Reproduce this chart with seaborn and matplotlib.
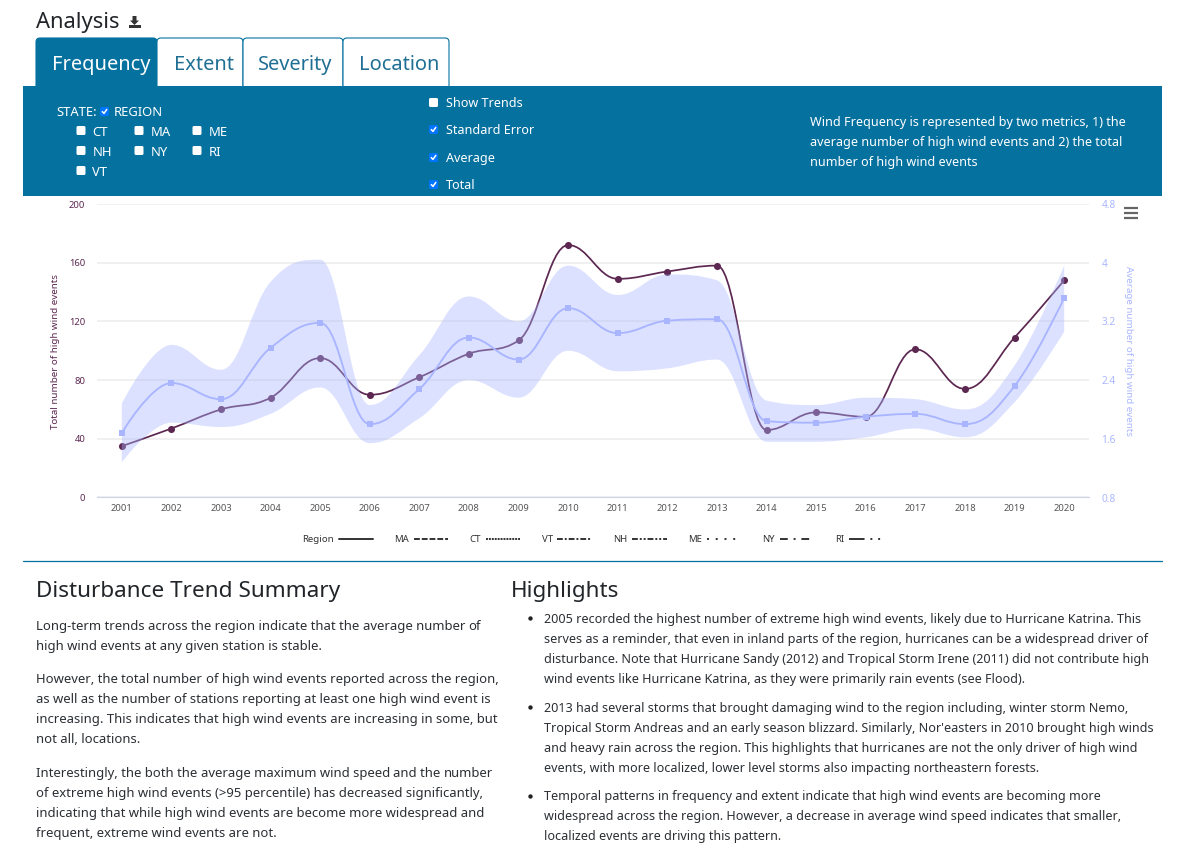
import matplotlib
matplotlib.use("Agg")
import matplotlib.pyplot as plt
import seaborn as sns
from matplotlib.path import Path
from matplotlib.patches import PathPatch, Rectangle, FancyBboxPatch, Polygon
from matplotlib.lines import Line2D

# ---------- data ----------
YEARS = list(range(2001, 2021))
TOTAL = [35, 47, 60, 68, 95, 70, 82, 98, 107, 172, 149, 154, 158, 46, 58, 55, 101, 74, 109, 148]
AVERAGE = [1.68, 2.36, 2.14, 2.84, 3.18, 1.80, 2.28, 2.98, 2.68, 3.38,
           3.04, 3.21, 3.23, 1.84, 1.82, 1.90, 1.94, 1.80, 2.32, 3.52]
SE_UPPER = [2.08, 2.88, 2.54, 3.74, 4.04, 2.06, 2.74, 3.54, 3.20, 3.96,
            3.56, 3.84, 3.76, 2.12, 2.06, 2.16, 2.14, 2.00, 2.60, 3.96]
SE_LOWER = [1.28, 1.82, 1.76, 1.94, 2.30, 1.54, 1.88, 2.40, 2.16, 2.80,
            2.52, 2.56, 2.68, 1.56, 1.56, 1.62, 1.74, 1.62, 2.10, 3.06]
LEFT_TICKS = [0, 40, 80, 120, 160, 200]
RIGHT_TICKS = [0.8, 1.6, 2.4, 3.2, 4, 4.8]
LEGEND_LABELS = ["Region", "MA", "CT", "VT", "NH", "ME", "NY", "RI"]
LEGEND_DASHES = [None, (3, 1), (1, .5), (3, 1, 1, 1), (3, 1, 1, 1, 1, 1), (1, 3.5), (4, 3, 1, 3), (8, 3, 1, 3, 1, 3)]
TABS = ["Frequency", "Extent", "Severity", "Location"]

SUMMARY = [
    (630, "Long-term trends across the region indicate that the **average number** of"),
    (650, "high wind events at any given station is stable."),
    (683, "However, the **total number** of high wind events reported across the region,"),
    (703, "as well as the number of stations reporting **at least one** high wind event is"),
    (723, "increasing. This indicates that high wind events are increasing in some, but"),
    (743, "not all, locations."),
    (777, "Interestingly, the both the **average maximum wind speed** and the **number**"),
    (797, "**of extreme high wind events** (>95 percentile) has decreased significantly,"),
    (817, "indicating that while high wind events are become more widespread and"),
    (837, "frequent, extreme wind events are not."),
]
HIGHLIGHTS = [
    (623, "2005 recorded the highest number of extreme high wind events, likely due to Hurricane Katrina. This"),
    (643, "serves as a reminder, that even in inland parts of the region, hurricanes can be a widespread driver of"),
    (663, "disturbance. Note that Hurricane Sandy (2012) and Tropical Storm Irene (2011) did not contribute high"),
    (683, "wind events like Hurricane Katrina, as they were primarily rain events (see Flood)."),
    (712, "2013 had several storms that brought damaging wind to the region including, winter storm Nemo,"),
    (732, "Tropical Storm Andreas and an early season blizzard. Similarly, Nor'easters in 2010 brought high winds"),
    (752, "and heavy rain across the region. This highlights that hurricanes are not the only driver of high wind"),
    (772, "events, with more localized, lower level storms also impacting northeastern forests."),
    (800, "Temporal patterns in frequency and extent indicate that high wind events are becoming more"),
    (820, "widespread across the region. However, a decrease in average wind speed indicates that smaller,"),
    (840, "localized events are driving this pattern."),
]
BULLET_ROWS = [618, 707, 796]
INFO = [(126, "Wind Frequency is represented by two metrics, 1) the"),
        (146, "average number of high wind events and 2) the total"),
        (166, "number of high wind events")]

# ---------- style ----------
W, H = 1178, 863
TEAL = "#05719f"
PURPLE = "#5c2751"
LAV = "#a9b6ff"
INK = "#212529"
sns.set_theme(style="white")
plt.rcParams["font.family"] = ["Noto Sans", "DejaVu Sans"]
px = lambda v: v * 0.72

fig = plt.figure(figsize=(W / 100, H / 100), dpi=100, facecolor="white")
ui = fig.add_axes([0, 0, 1, 1], zorder=0)
ui.set_xlim(0, W)
ui.set_ylim(H, 0)
ui.axis("off")
renderer = fig.canvas.get_renderer()


def label(x, y, s, size, color=INK, weight="normal", **kw):
    return ui.text(x, y, s, fontsize=px(size), color=color, fontweight=weight, va="baseline", ha="left", **kw)


def rich(x, y, s, size, color=INK):
    space = label(0, 0, "a a", size).get_window_extent(renderer).width - label(0, 0, "aa", size).get_window_extent(renderer).width
    ui.texts[-1].remove()
    ui.texts[-1].remove()
    for i, part in enumerate(s.split("**")):
        if not part.strip():
            continue
        if part[0] == " ":
            x += space
        t = label(x, y, part.strip(), size, color, "bold" if i % 2 else "normal")
        x += t.get_window_extent(renderer).width
        if part[-1] == " ":
            x += space


def checkbox(x, y, checked):
    ui.add_patch(FancyBboxPatch((x + 1, y + 1), 7, 7, boxstyle="round,pad=1,rounding_size=1.5",
                                fc="#0075ff" if checked else "white", ec="none"))
    if checked:
        ui.plot([x + 2.3, x + 4, x + 6.8], [y + 4.6, y + 6.4, y + 2.4], color="white", lw=1.1)


# ---------- page furniture ----------
label(36, 28, "Analysis", 22)
ui.add_patch(Polygon([(132.5, 16), (136.5, 16), (136.5, 20.5), (139, 20.5), (134.5, 25), (130, 20.5), (132.5, 20.5)], fc="#333", ec="none"))
ui.add_patch(Rectangle((129, 25), 11.5, 3, fc="#333", ec="none"))

tab_edges = [36, 157, 243, 343, 449]
tab_text_x = [52, 173.5, 258, 359]
for i, name in enumerate(TABS):
    x0, x1 = tab_edges[i], tab_edges[i + 1]
    ui.add_patch(FancyBboxPatch((x0 + 3, 41), x1 - x0 - 6, 60, boxstyle="round,pad=3,rounding_size=4",
                                fc=TEAL if i == 0 else "white", ec=TEAL, lw=0.8))
ui.add_patch(Rectangle((23, 86), 1139, 110, fc=TEAL, ec="none", zorder=3))
for i, name in enumerate(TABS):
    label(tab_text_x[i], 70, name, 20, "white" if i == 0 else "#1f6f94")

label(56, 116, "STATE:", 13, "white", zorder=4)
checkbox(100, 107, True)
ui.patches[-1].set_zorder(4); ui.lines[-1].set_zorder(5)
label(114, 116, "REGION", 13, "white", zorder=4)
STATE_GRID = [("CT", 76.5, 92.5, 126, 136), ("MA", 134.5, 151, 126, 136), ("ME", 192.5, 209, 126, 136),
              ("NH", 76.5, 92.5, 146, 156), ("NY", 134.5, 151, 146, 156), ("RI", 192.5, 209, 146, 156),
              ("VT", 76.5, 92.5, 166, 176)]
for s, bx, tx, by, ty in STATE_GRID:
    checkbox(bx, by, False)
    ui.patches[-1].set_zorder(4)
    label(tx, ty, s, 13, "white", zorder=4)
for s, by, ty, on in [("Show Trends", 98, 107, False), ("Standard Error", 125, 134, True),
                      ("Average", 153, 162, True), ("Total", 180, 189, True)]:
    checkbox(429, by, on)
    ui.patches[-1].set_zorder(4)
    if on:
        ui.lines[-1].set_zorder(5)
    label(446, ty, s, 12.6, "white", zorder=4)
for y, s in INFO:
    label(810, y, s, 12.6, "white", zorder=4)

for y in (208, 213.5, 218.5):
    ui.plot([1124, 1138], [y, y], color="#666666", lw=1.6, solid_capstyle="butt", zorder=6)

ui.plot([23, 1162], [560.5, 560.5], color=TEAL, lw=0.9)

label(36, 597, "Disturbance Trend Summary", 22.5)
label(511, 597, "Highlights", 22.5)
for y, s in SUMMARY:
    rich(36, y, s, 13.1, "#2b2f33")
for y, s in HIGHLIGHTS:
    rich(544, y, s, 12.55, "#2b2f33")
for y in BULLET_ROWS:
    ui.scatter([529.5], [y], s=10, color="#222222", linewidths=0)


# ---------- Highcharts-style spline as real Bezier segments ----------
def segments(xs, ys):
    """Cubic control points for a smoothed curve through the given data."""
    n = len(xs)
    left, right = [None] * n, [None] * n
    for i in range(1, n - 1):
        x, y = xs[i], ys[i]
        lx, ly = (1.5 * x + xs[i - 1]) / 2.5, (1.5 * y + ys[i - 1]) / 2.5
        rx, ry = (1.5 * x + xs[i + 1]) / 2.5, (1.5 * y + ys[i + 1]) / 2.5
        c = (ry - ly) * (rx - x) / (rx - lx) + y - ry
        ly += c
        ry += c
        if ly > max(ys[i - 1], y):
            ly = max(ys[i - 1], y); ry = 2 * y - ly
        elif ly < min(ys[i - 1], y):
            ly = min(ys[i - 1], y); ry = 2 * y - ly
        if ry > max(ys[i + 1], y):
            ry = max(ys[i + 1], y); ly = 2 * y - ry
        elif ry < min(ys[i + 1], y):
            ry = min(ys[i + 1], y); ly = 2 * y - ry
        left[i], right[i] = (lx, ly), (rx, ry)
    left[n - 1] = (xs[-1], ys[-1])
    right[0] = (xs[0], ys[0])
    return left, right


def curve(xs, ys):
    left, right = segments(xs, ys)
    verts = [(xs[0], ys[0])]
    for i in range(1, len(xs)):
        verts += [right[i - 1], left[i], (xs[i], ys[i])]
    return verts


def open_path(xs, ys):
    v = curve(xs, ys)
    return Path(v, [Path.MOVETO] + [Path.CURVE4] * (len(v) - 1))


def band_path(xs, up, lo):
    a = curve(xs, up)
    b = curve(xs, lo)[::-1]
    verts = a + [b[0]] + b[1:] + [a[0]]
    codes = [Path.MOVETO] + [Path.CURVE4] * (len(a) - 1) + [Path.LINETO] + [Path.CURVE4] * (len(b) - 1) + [Path.CLOSEPOLY]
    return Path(verts, codes)


# ---------- chart ----------
L, R, T, B = 97, 1089, 204, 497.5
ax = fig.add_axes([L / W, 1 - B / H, (R - L) / W, (B - T) / H], zorder=1)
ax.patch.set_alpha(0)
ax2 = ax.twinx()
ax2.set_zorder(2)
ax2.patch.set_alpha(0)

ax.set_xlim(2000.5, 2020.5)
ax.set_ylim(0, 200)
ax2.set_ylim(0.8, 4.8)
ax.set_xticks(YEARS)
ax.set_xticklabels([str(y) for y in YEARS])
ax.set_yticks(LEFT_TICKS)
ax.set_yticklabels([str(v) for v in LEFT_TICKS])
ax2.set_yticks(RIGHT_TICKS)
ax2.set_yticklabels([f"{v:g}" for v in RIGHT_TICKS])

ax.grid(axis="y", color="#ececec", lw=1.1)
ax.set_axisbelow(True)
for a in (ax, ax2):
    for s in a.spines.values():
        s.set_visible(False)
ax.spines["bottom"].set_visible(True)
ax.spines["bottom"].set_color("#ccd6eb")
ax.spines["bottom"].set_linewidth(0.8)

ax.tick_params(axis="x", length=0, pad=5, labelsize=px(9.4), labelcolor="#555555")
ax.tick_params(axis="y", length=0, pad=8.5, labelsize=px(9.4), labelcolor=PURPLE)
ax2.tick_params(axis="y", length=0, pad=9, labelsize=px(10), labelcolor=LAV)

ax.add_patch(PathPatch(open_path(YEARS, TOTAL), fill=False, ec=PURPLE, lw=1.25, capstyle="round"))
sns.scatterplot(x=YEARS, y=TOTAL, ax=ax, color=PURPLE, marker="o", s=26, linewidth=0, zorder=3, clip_on=False, legend=False)

ax2.add_patch(PathPatch(band_path(YEARS, SE_UPPER, SE_LOWER), fc=LAV, ec="none", alpha=0.4))
ax2.add_patch(PathPatch(open_path(YEARS, AVERAGE), fill=False, ec=LAV, lw=1.35))
sns.scatterplot(x=YEARS, y=AVERAGE, ax=ax2, color=LAV, marker="s", s=24, linewidth=0, zorder=3, clip_on=False, legend=False)
ax.set_xlabel("")
ax.set_ylabel("")
ax2.set_ylabel("")

fig.text(55 / W, 1 - 351.5 / H, "Total number of high wind events", rotation=90, ha="center", va="center",
         fontsize=px(9.8), color=PURPLE)
fig.text(1129 / W, 1 - 351 / H, "Average number of high wind events", rotation=270, ha="center", va="center",
         fontsize=px(9.8), color=LAV)

handles = [Line2D([], [], color="#333333", lw=1.4, linestyle="-" if d is None else (0, d)) for d in LEGEND_DASHES]
leg = ax.legend(handles, LEGEND_LABELS, ncol=8, markerfirst=False, frameon=False, loc="center",
                bbox_to_anchor=(593 / W, 1 - 540 / H), bbox_transform=fig.transFigure,
                fontsize=px(9.6), labelcolor="#333333", handlelength=3.6, handletextpad=0.5,
                columnspacing=2.2, borderpad=0, borderaxespad=0)

fig.savefig("out.png", dpi=100, facecolor="white")
